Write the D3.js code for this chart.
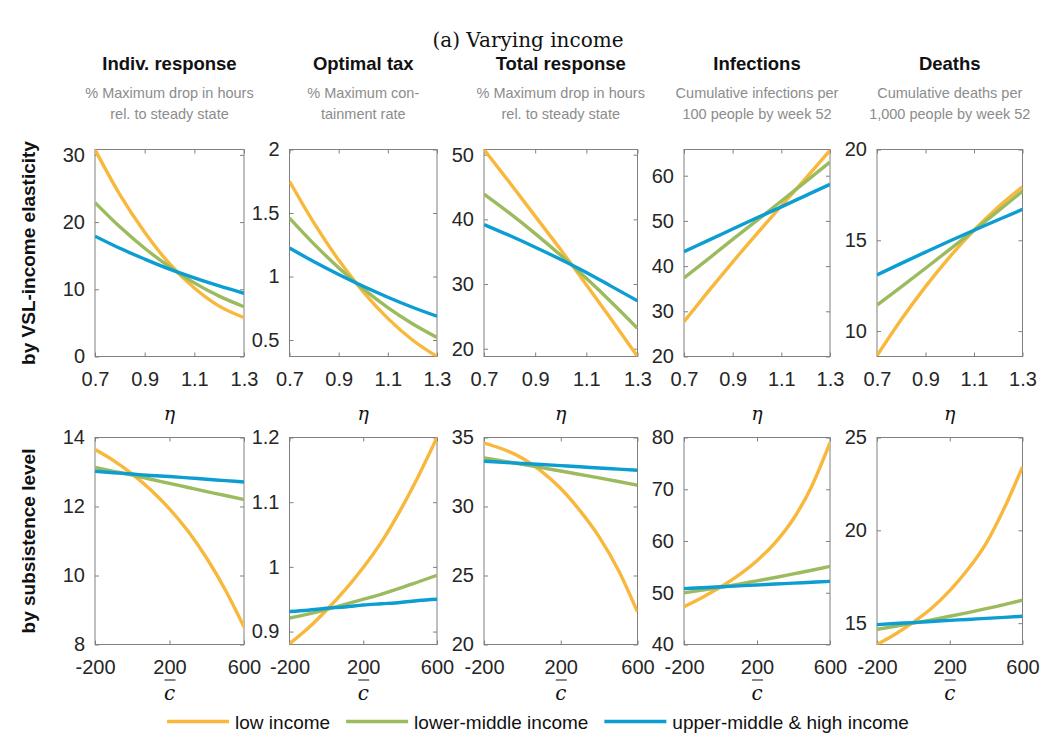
<!DOCTYPE html>
<html><head><meta charset="utf-8">
<script src="https://cdn.jsdelivr.net/npm/d3@7"></script>
<style>body{margin:0;background:#fff}</style>
</head><body><svg id="c" width="1057" height="740"></svg>
<script>
// ---------- data ----------
const seriesNames = ["low income", "lower-middle income", "upper-middle & high income"];
const seriesColors = ["#F8B83C", "#9BBB5E", "#0C9DD2"];

const colTitles = ["Indiv. response", "Optimal tax", "Total response", "Infections", "Deaths"];
const colSubtitles = [
  ["% Maximum drop in hours", "rel. to steady state"],
  ["% Maximum con-", "tainment rate"],
  ["% Maximum drop in hours", "rel. to steady state"],
  ["Cumulative infections per", "100 people by week 52"],
  ["Cumulative deaths per", "1,000 people by week 52"]
];
const rowLabels = ["by VSL-income elasticity", "by subsistence level"];
const mainTitle = "(a) Varying income";

const etaX = [0.7, 0.8, 0.9, 1.0, 1.1, 1.2, 1.3];
const etaTicks = [0.7, 0.9, 1.1, 1.3];
const cbarX = [-200, -100, 0, 100, 200, 300, 400, 500, 600];
const cbarTicks = [-200, 200, 600];

// Row 1 (eta)
const indivEtaLow = [30.8, 24.1, 18.5, 13.8, 10.2, 7.5, 5.8];
const indivEtaLM  = [22.9, 19.3, 16.1, 13.35, 10.96, 8.98, 7.4];
const indivEtaUMH = [17.9, 16.1, 14.5, 13.0, 11.7, 10.5, 9.4];
const indivEtaTicks = [0, 10, 20, 30];
const indivEtaDomain = [0, 30.8];

const taxEtaLow = [1.75, 1.42, 1.129, 0.879, 0.670, 0.50, 0.37];
const taxEtaLM  = [1.46, 1.255, 1.069, 0.902, 0.755, 0.628, 0.52];
const taxEtaUMH = [1.224, 1.116, 1.016, 0.923, 0.837, 0.758, 0.687];
const taxEtaTicks = [0.5, 1, 1.5, 2];
const taxEtaDomain = [0.37, 2.0];

const totalEtaLow = [50.8, 45.7, 40.5, 35.3, 29.9, 24.4, 18.8];
const totalEtaLM  = [43.9, 40.95, 37.8, 34.44, 30.88, 27.11, 23.15];
const totalEtaUMH = [39.2, 37.5, 35.7, 33.8, 31.8, 29.6, 27.4];
const totalEtaTicks = [20, 30, 40, 50];
const totalEtaDomain = [18.8, 50.8];

const infEtaLow = [27.7, 34.4, 40.9, 47.2, 53.3, 59.4, 65.6];
const infEtaLM  = [37.4, 41.6, 45.9, 50.1, 54.4, 58.7, 63.0];
const infEtaUMH = [43.2, 45.7, 48.2, 50.7, 53.1, 55.6, 58.1];
const infEtaTicks = [20, 30, 40, 50, 60];
const infEtaDomain = [20, 65.8];

const deathEtaLow = [8.65, 10.64, 12.45, 14.09, 15.55, 16.83, 17.94];
const deathEtaLM  = [11.43, 12.44, 13.46, 14.50, 15.55, 16.62, 17.70];
const deathEtaUMH = [13.09, 13.73, 14.35, 14.96, 15.55, 16.13, 16.70];
const deathEtaTicks = [10, 15, 20];
const deathEtaDomain = [8.6, 20];

// Row 2 (c-bar)
const indivCLow = [13.65, 13.33, 12.94, 12.48, 11.93, 11.28, 10.5, 9.58, 8.51];
const indivCLM  = [13.13, 13.02, 12.91, 12.79, 12.67, 12.55, 12.43, 12.32, 12.2];
const indivCUMH = [13.02, 12.98, 12.94, 12.90, 12.87, 12.83, 12.79, 12.75, 12.71];
const indivCTicks = [8, 10, 12, 14];
const indivCDomain = [8, 14];

const taxCLow = [0.881, 0.905, 0.933, 0.964, 0.999, 1.039, 1.087, 1.141, 1.2];
const taxCLM  = [0.921, 0.927, 0.934, 0.942, 0.950, 0.958, 0.967, 0.977, 0.987];
const taxCUMH = [0.931, 0.933, 0.936, 0.938, 0.941, 0.943, 0.945, 0.948, 0.950];
const taxCTicks = [0.9, 1, 1.1, 1.2];
const taxCDomain = [0.88, 1.2];

const totalCLow = [34.6, 34.15, 33.5, 32.55, 31.3, 29.7, 27.8, 25.4, 22.36];
const totalCLM  = [33.52, 33.29, 33.06, 32.82, 32.57, 32.32, 32.07, 31.81, 31.54];
const totalCUMH = [33.28, 33.2, 33.12, 33.04, 32.96, 32.88, 32.79, 32.71, 32.63];
const totalCTicks = [20, 25, 30, 35];
const totalCDomain = [20, 35];

const infCLow = [47.3, 49.1, 51.1, 53.4, 56.2, 59.7, 64.3, 70.6, 79.0];
const infCLM  = [49.97, 50.5, 51.05, 51.65, 52.3, 52.95, 53.65, 54.35, 55.1];
const infCUMH = [50.8, 50.98, 51.15, 51.33, 51.5, 51.68, 51.85, 52.03, 52.2];
const infCTicks = [40, 50, 60, 70, 80];
const infCDomain = [40, 80];

const deathCLow = [13.85, 14.4, 15.05, 15.8, 16.75, 17.9, 19.3, 21.2, 23.42];
const deathCLM  = [14.67, 14.83, 15.0, 15.18, 15.37, 15.57, 15.78, 16.0, 16.24];
const deathCUMH = [14.92, 14.98, 15.03, 15.09, 15.15, 15.2, 15.26, 15.31, 15.37];
const deathCTicks = [15, 20, 25];
const deathCDomain = [13.85, 25];

// ---------- layout ----------
const colX0 = [95, 289.5, 484, 684, 877];
const colX1 = [244, 437, 637.5, 830, 1022.5];
const rowY0 = [149.5, 437.5];
const rowY1 = [356.5, 644.5];

const panels = [
  {r:0,c:0,x:etaX,ys:[indivEtaLow,indivEtaLM,indivEtaUMH],dom:indivEtaDomain,ticks:indivEtaTicks},
  {r:0,c:1,x:etaX,ys:[taxEtaLow,taxEtaLM,taxEtaUMH],dom:taxEtaDomain,ticks:taxEtaTicks},
  {r:0,c:2,x:etaX,ys:[totalEtaLow,totalEtaLM,totalEtaUMH],dom:totalEtaDomain,ticks:totalEtaTicks},
  {r:0,c:3,x:etaX,ys:[infEtaLow,infEtaLM,infEtaUMH],dom:infEtaDomain,ticks:infEtaTicks},
  {r:0,c:4,x:etaX,ys:[deathEtaLow,deathEtaLM,deathEtaUMH],dom:deathEtaDomain,ticks:deathEtaTicks},
  {r:1,c:0,x:cbarX,ys:[indivCLow,indivCLM,indivCUMH],dom:indivCDomain,ticks:indivCTicks},
  {r:1,c:1,x:cbarX,ys:[taxCLow,taxCLM,taxCUMH],dom:taxCDomain,ticks:taxCTicks},
  {r:1,c:2,x:cbarX,ys:[totalCLow,totalCLM,totalCUMH],dom:totalCDomain,ticks:totalCTicks},
  {r:1,c:3,x:cbarX,ys:[infCLow,infCLM,infCUMH],dom:infCDomain,ticks:infCTicks},
  {r:1,c:4,x:cbarX,ys:[deathCLow,deathCLM,deathCUMH],dom:deathCDomain,ticks:deathCTicks}
];

const svg = d3.select("#c");
const SANS = "'Liberation Sans', Arial, Helvetica, sans-serif";
const SERIF = "'DejaVu Serif', 'Liberation Serif', serif";
const axisColor = "#808080";
const tickTextColor = "#262626";
const TL = 4;

svg.append("text").attr("x", 528).attr("y", 47).attr("text-anchor", "middle")
  .style("font-family", SERIF).style("font-size", "20px").attr("fill", "#111")
  .text(mainTitle);

colTitles.forEach((t, i) => {
  const cx = (colX0[i] + colX1[i]) / 2;
  svg.append("text").attr("x", cx).attr("y", 70).attr("text-anchor", "middle")
    .style("font-family", SANS).style("font-size", "18.5px").style("font-weight", "bold")
    .attr("fill", "#111").text(t);
  colSubtitles[i].forEach((s, j) => {
    svg.append("text").attr("x", cx).attr("y", 98 + j * 21).attr("text-anchor", "middle")
      .style("font-family", SANS).style("font-size", "14.5px").attr("fill", "#8c8c8c").text(s);
  });
});

rowLabels.forEach((t, r) => {
  const cy = (rowY0[r] + rowY1[r]) / 2;
  svg.append("text").attr("transform", `translate(35,${cy}) rotate(-90)`)
    .attr("text-anchor", "middle")
    .style("font-family", SANS).style("font-size", "19px").style("font-weight", "bold")
    .attr("fill", "#111").text(t);
});

panels.forEach((p, k) => {
  const x0 = colX0[p.c], x1 = colX1[p.c], y0 = rowY0[p.r], y1 = rowY1[p.r];
  const xs = d3.scaleLinear().domain(d3.extent(p.x)).range([x0, x1]);
  const ys = d3.scaleLinear().domain(p.dom).range([y1, y0]);
  const xt = p.r === 0 ? etaTicks : cbarTicks;
  const g = svg.append("g");

  g.append("clipPath").attr("id", "clip" + k).append("rect")
    .attr("x", x0).attr("y", y0).attr("width", x1 - x0).attr("height", y1 - y0);

  const bottom = d3.axisBottom(xs).tickValues(xt).tickSize(-TL).tickFormat(d => String(d)).tickPadding(10);
  const top = d3.axisTop(xs).tickValues(xt).tickSize(-TL).tickFormat("");
  const left = d3.axisLeft(ys).tickValues(p.ticks).tickSize(-TL).tickFormat(d => String(d)).tickPadding(10);
  const right = d3.axisRight(ys).tickValues(p.ticks).tickSize(-TL).tickFormat("");

  const styleAxis = sel => {
    sel.selectAll("path").attr("stroke", axisColor).attr("stroke-width", 1);
    sel.selectAll("line").attr("stroke", axisColor).attr("stroke-width", 1);
    sel.selectAll("text").attr("fill", tickTextColor)
      .style("font-family", SANS).style("font-size", "20px");
  };
  g.append("g").attr("transform", `translate(0,${y1})`).call(bottom).call(styleAxis)
    .selectAll("text").attr("dy", "0.95em");
  g.append("g").attr("transform", `translate(0,${y0})`).call(top).call(styleAxis);
  g.append("g").attr("transform", `translate(${x0},0)`).call(left).call(styleAxis);
  g.append("g").attr("transform", `translate(${x1},0)`).call(right).call(styleAxis);
  g.selectAll(".domain").attr("d", null);
  g.append("rect").attr("x", x0).attr("y", y0).attr("width", x1 - x0).attr("height", y1 - y0)
    .attr("fill", "none").attr("stroke", axisColor).attr("stroke-width", 1);

  const line = d3.line().x((d, i) => xs(p.x[i])).y(d => ys(d)).curve(d3.curveMonotoneX);
  const lg = g.append("g").attr("clip-path", `url(#clip${k})`);
  p.ys.forEach((arr, s) => {
    lg.append("path").attr("d", line(arr)).attr("fill", "none")
      .attr("stroke", seriesColors[s]).attr("stroke-width", 3.4)
      .attr("stroke-linejoin", "round");
  });

  const cx = (x0 + x1) / 2;
  if (p.r === 0) {
    g.append("text").attr("x", cx).attr("y", 420).attr("text-anchor", "middle")
      .style("font-family", SERIF).style("font-style", "italic").style("font-size", "19px")
      .attr("fill", "#111").text("η");
  } else {
    const ly = 700;
    g.append("text").attr("x", cx).attr("y", ly).attr("text-anchor", "middle")
      .style("font-family", SERIF).style("font-style", "italic").style("font-size", "20px")
      .attr("fill", "#111").text("c");
    g.append("line").attr("x1", cx - 5).attr("x2", cx + 6).attr("y1", ly - 20).attr("y2", ly - 20)
      .attr("stroke", "#111").attr("stroke-width", 1);
  }
});

// legend
const lgG = svg.append("g");
let cursor = 0;
seriesNames.forEach((n, i) => {
  const it = lgG.append("g");
  it.append("line").attr("x1", 0).attr("x2", 62).attr("y1", 0).attr("y2", 0)
    .attr("stroke", seriesColors[i]).attr("stroke-width", 3.4);
  const t = it.append("text").attr("x", 68).attr("y", 7)
    .style("font-family", SANS).style("font-size", "19px").attr("fill", "#111").text(n);
  const w = 68 + t.node().getComputedTextLength();
  it.attr("transform", `translate(${cursor},0)`);
  cursor += w + 16;
});
const totalW = cursor - 16;
lgG.attr("transform", `translate(${538 - totalW / 2},721.5)`);
</script></body></html>
